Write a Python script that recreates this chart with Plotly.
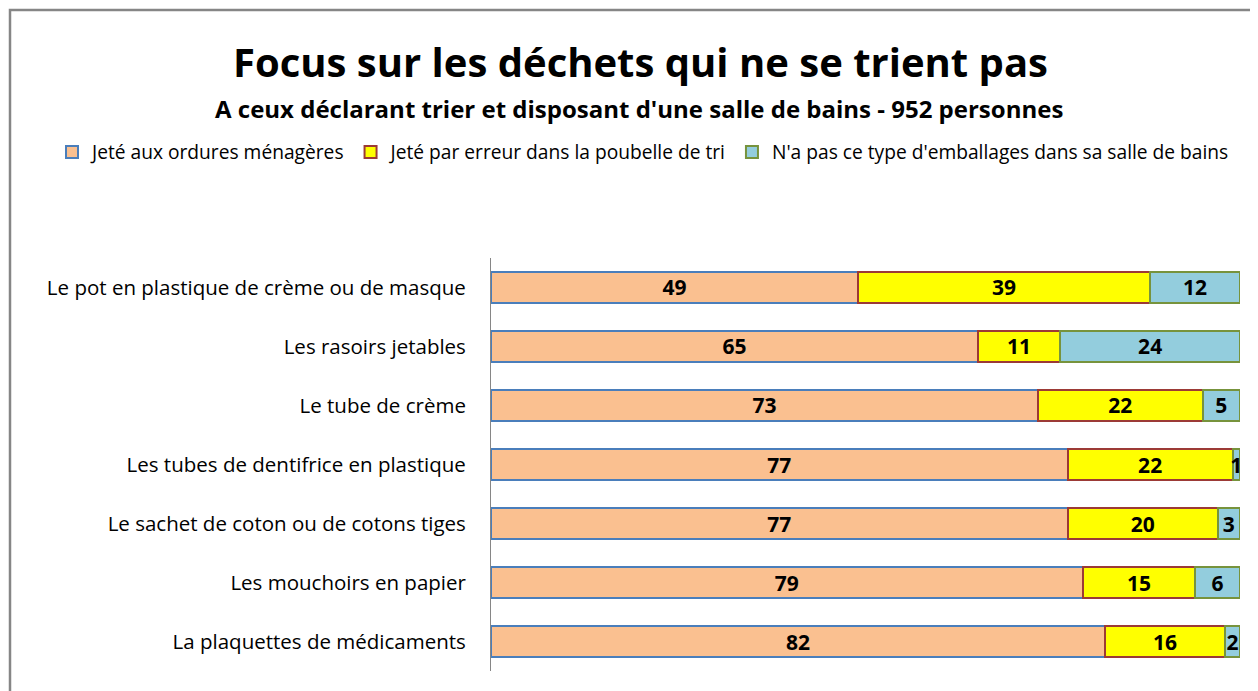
import plotly.graph_objects as go

categories = [
    "Le pot en plastique de crème ou de masque",
    "Les rasoirs jetables",
    "Le tube de crème",
    "Les tubes de dentifrice en plastique",
    "Le sachet de coton ou de cotons tiges",
    "Les mouchoirs en papier",
    "La plaquettes de médicaments",
]
ordures = [49, 65, 73, 77, 77, 79, 82]
erreur = [39, 11, 22, 22, 20, 15, 16]
pas_type = [12, 24, 5, 1, 3, 6, 2]

series_names = [
    "Jeté aux ordures ménagères",
    "Jeté par erreur dans la poubelle de tri",
    "N'a pas ce type d'emballages dans sa salle de bains",
]

# page has an 8px body margin; figure coordinates = page coordinates - 8
OFF = 8
W, H = 1258 - OFF, 691 - OFF
FONT = "Open Sans"


def px(x):
    return (x - OFF) / W


def py(y):
    return 1 - (y - OFF) / H


fig = go.Figure()
styles = [
    ("#FAC090", "#4A7EBB"),
    ("#FFFF00", "#9C3A36"),
    ("#93CDDD", "#77933C"),
]
for name, vals, (fill, line) in zip(series_names, [ordures, erreur, pas_type], styles):
    fig.add_trace(go.Bar(
        y=categories, x=vals, name=name, orientation="h",
        marker=dict(color=fill, line=dict(color=line, width=2)),
        text=[str(v) for v in vals],
        textposition="inside", insidetextanchor="middle",
        constraintext="none", textangle=0,
        textfont=dict(family=FONT, size=21, color="black", weight="bold"),
        width=0.51,
    ))

fig.update_layout(
    width=W, height=H,
    barmode="stack",
    paper_bgcolor="white", plot_bgcolor="white",
    margin=dict(l=0, r=0, t=0, b=0),
    font=dict(family=FONT, color="black"),
    showlegend=True,
    legend=dict(
        orientation="h", x=px(643), xanchor="center", y=py(152), yanchor="middle",
        font=dict(family=FONT, size=19.2, color="black"),
        traceorder="normal", itemwidth=30,
    ),
    xaxis=dict(
        domain=[px(491), px(1240)], range=[0, 100],
        showticklabels=False, showgrid=False, zeroline=False, showline=False,
    ),
    yaxis=dict(
        domain=[py(671), py(258)], autorange="reversed",
        showline=True, linecolor="#868686", linewidth=1,
        ticks="", ticklabelstandoff=20,
        tickfont=dict(family=FONT, size=20.5, color="black"),
        showgrid=False,
    ),
    annotations=[
        dict(text="<b>Focus sur les déchets qui ne se trient pas</b>",
             x=px(640), y=py(62), xref="paper", yref="paper",
             xanchor="center", yanchor="middle",
             showarrow=False, font=dict(family=FONT, size=40, color="black")),
        dict(text="<b>A ceux déclarant trier et disposant d'une salle de bains - 952 personnes</b>",
             x=px(639), y=py(108), xref="paper", yref="paper",
             xanchor="center", yanchor="middle",
             showarrow=False, font=dict(family=FONT, size=24, color="black")),
    ],
    shapes=[
        dict(type="rect", xref="paper", yref="paper",
             x0=px(10), x1=1.01, y0=-0.01, y1=py(10),
             line=dict(color="#868686", width=2.5), fillcolor="rgba(0,0,0,0)"),
    ],
)

fig.write_html("out.html")
